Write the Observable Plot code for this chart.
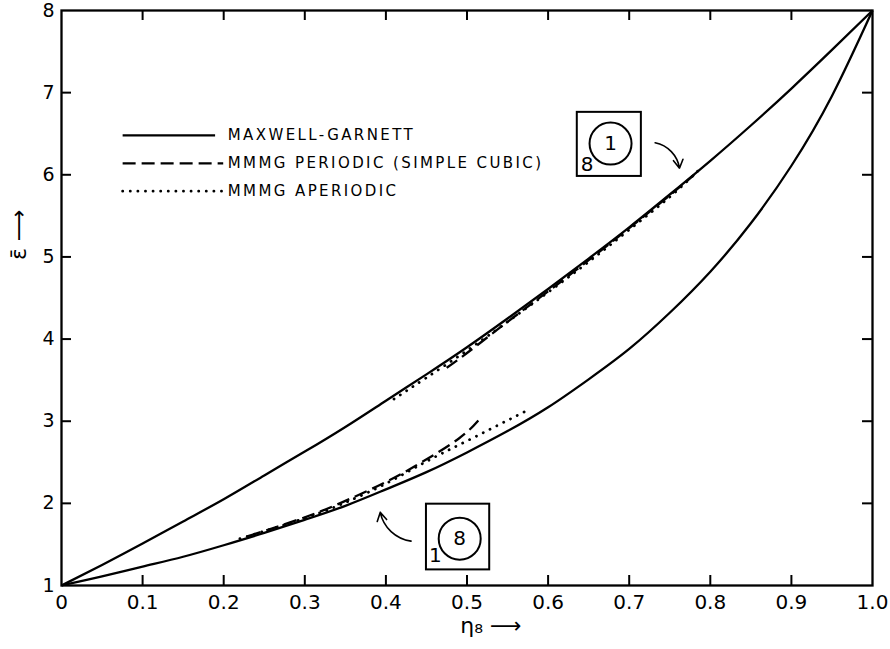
<!DOCTYPE html>
<html><head><meta charset="utf-8">
<script src="https://cdn.jsdelivr.net/npm/d3@7"></script>
<script src="https://cdn.jsdelivr.net/npm/@observablehq/plot@0.6"></script>
<style>
body{margin:0;background:#fff}
</style></head><body><div id="chart"></div><script>
// ---- data ----
const mgEta   = [0,0.05,0.1,0.15,0.2,0.25,0.3,0.35,0.4,0.45,0.5,0.55,0.6,0.65,0.7,0.75,0.8,0.85,0.9,0.95,1];
const mgUpper = [1,1.25,1.51,1.78,2.05,2.34,2.63,2.93,3.25,3.57,3.90,4.25,4.61,4.98,5.36,5.76,6.17,6.60,7.05,7.52,8];
const mgLower = [1,1.11,1.23,1.35,1.49,1.64,1.80,1.97,2.17,2.38,2.62,2.88,3.17,3.51,3.88,4.32,4.82,5.41,6.11,6.96,8];

const perUpEta = [0.475,0.5,0.55,0.6,0.65,0.7,0.75,0.78];
const perUpVal = [3.65,3.83,4.21,4.58,4.96,5.35,5.75,6.0];
const perLoEta = [0.23,0.3,0.35,0.4,0.444,0.49,0.514];
const perLoVal = [1.60,1.83,2.03,2.26,2.50,2.79,3.01];

const apUpEta = [0.41,0.45,0.5,0.55,0.6,0.65,0.7,0.75,0.785];
const apUpVal = [3.27,3.53,3.86,4.21,4.57,4.94,5.33,5.73,6.05];
const apLoEta = [0.22,0.3,0.35,0.4,0.45,0.5,0.55,0.576];
const apLoVal = [1.57,1.82,2.01,2.24,2.51,2.76,3.01,3.14];

const xTicks = [0,0.1,0.2,0.3,0.4,0.5,0.6,0.7,0.8,0.9,1.0];
const xTickLabels = ["0","0.1","0.2","0.3","0.4","0.5","0.6","0.7","0.8","0.9","1.0"];
const yTicks = [1,2,3,4,5,6,7,8];
const yTickLabels = ["1","2","3","4","5","6","7","8"];
const legendLabels = ["MAXWELL-GARNETT","MMMG PERIODIC (SIMPLE CUBIC)","MMMG APERIODIC"];
const xLabel = "η₈ ⟶";
const yLabel = "ε̄ ⟶";

// ---- layout (data-space anchors for annotations) ----
const legendRowY = [6.48, 6.14, 5.80];
const legendX1 = 0.076, legendX2 = 0.19, legendTextX = 0.205;
const boxA = {x1:0.636, x2:0.715, y1:5.98, y2:6.76, cx:0.677, cy:6.38, inner:"1", outer:"8", ox:0.648, oy:6.12};
const boxB = {x1:0.450, x2:0.528, y1:1.19, y2:1.99, cx:0.491, cy:1.57, inner:"8", outer:"1", ox:0.461, oy:1.36};
const arrows = [
  {x1:0.732, y1:6.39, x2:0.762, y2:6.08},
  {x1:0.431, y1:1.54, x2:0.393, y2:1.89}
];

const zip = (xs, ys) => xs.map((x,i)=>({x, y: ys[i]}));
const tkY = 0.122, tkX = 0.0123;
const dashes = [null, "13,6", "0.1,7.5"];

const line = (xs, ys, dash) => Plot.line(zip(xs,ys), {x:"x", y:"y", curve:"natural", stroke:"#000",
  strokeDasharray: dash, strokeLinecap: dash==="0.1,7.5" ? "round" : "butt", strokeWidth: dash==="0.1,7.5" ? 2.8 : 2.3});

const chart = Plot.plot({
  width: 890, height: 649,
  marginLeft: 61, marginRight: 18, marginTop: 10, marginBottom: 64,
  x: {domain:[0,1], axis:null},
  y: {domain:[1,8], axis:null},
  style: {fontFamily:"'DejaVu Sans', sans-serif", background:"#fff", color:"#000"},
  marks: [
    Plot.ruleX(xTicks.slice(1,-1), {x:d=>d, y1:1, y2:1+tkY, stroke:"#000", strokeWidth:2}),
    Plot.ruleX(xTicks.slice(1,-1), {x:d=>d, y1:8, y2:8-tkY, stroke:"#000", strokeWidth:2}),
    Plot.ruleY(yTicks.slice(1,-1), {y:d=>d, x1:0, x2:tkX, stroke:"#000", strokeWidth:2}),
    Plot.ruleY(yTicks.slice(1,-1), {y:d=>d, x1:1, x2:1-tkX, stroke:"#000", strokeWidth:2}),
    Plot.frame({stroke:"#000", strokeWidth:2.3}),
    Plot.text(xTicks, {x:d=>d, y:1, text:(d,i)=>xTickLabels[i], dy:17, fontSize:20, textAnchor:"middle"}),
    Plot.text(yTicks, {x:0, y:d=>d, text:(d,i)=>yTickLabels[i], dx:-7, fontSize:19, textAnchor:"end"}),
    Plot.text([xLabel], {frameAnchor:"bottom", text:d=>d, dy:47, dx:24, fontSize:22}),
    Plot.text([yLabel], {frameAnchor:"left", text:d=>d, dx:-43, dy:-38, rotate:-90, fontSize:22}),
    line(mgEta, mgUpper, null),
    line(mgEta, mgLower, null),
    line(perUpEta, perUpVal, dashes[1]),
    line(perLoEta, perLoVal, dashes[1]),
    line(apUpEta, apUpVal, dashes[2]),
    line(apLoEta, apLoVal, dashes[2]),
    ...legendLabels.map((lab,i)=>Plot.ruleY([legendRowY[i]], {x1:legendX1, x2:legendX2 + (i? 0.01:0), stroke:"#000",
       strokeWidth: i===2 ? 2.8 : 2.3, strokeDasharray: dashes[i], strokeLinecap: i===2 ? "round" : "butt"})),
    Plot.text(legendLabels, {x:legendTextX, y:(d,i)=>legendRowY[i], text:d=>d, textAnchor:"start", fontSize:15}),
    ...[boxA, boxB].flatMap(b => [
      Plot.rect([b], {x1:"x1", x2:"x2", y1:"y1", y2:"y2", fill:"none", stroke:"#000", strokeWidth:2}),
      Plot.dot([b], {x:"cx", y:"cy", r:21, stroke:"#000", strokeWidth:2}),
      Plot.text([b], {x:"cx", y:"cy", text:"inner", fontSize:20}),
      Plot.text([b], {x:"ox", y:"oy", text:"outer", fontSize:20})
    ]),
    Plot.arrow(arrows, {x1:"x1", y1:"y1", x2:"x2", y2:"y2", bend:35, headLength:9, stroke:"#000", strokeWidth:1.6})
  ]
});
d3.select(chart).selectAll("text")
  .filter(function(){ return legendLabels.includes(this.textContent); })
  .attr("letter-spacing", "2.4px");
document.getElementById("chart").append(chart);
</script></body></html>
